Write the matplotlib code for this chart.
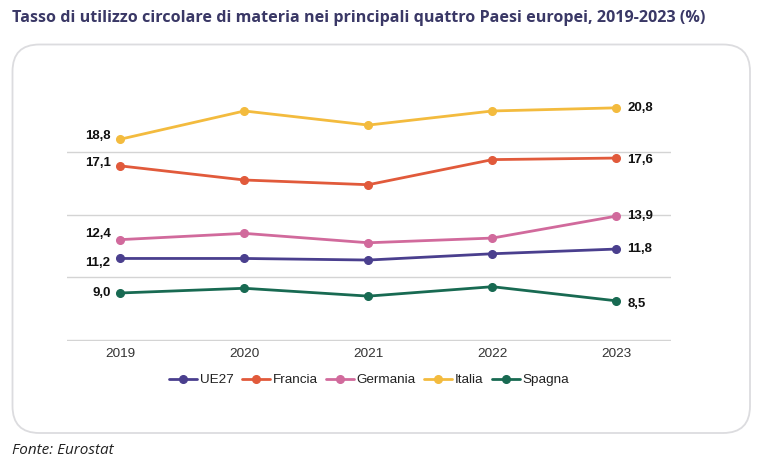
import matplotlib
matplotlib.use("Agg")
import matplotlib.pyplot as plt
from matplotlib.patches import FancyBboxPatch

years = ["2019", "2020", "2021", "2022", "2023"]
ue27 = [11.2, 11.2, 11.1, 11.5, 11.8]
francia = [17.1, 16.2, 15.9, 17.5, 17.6]
germania = [12.4, 12.8, 12.2, 12.5, 13.9]
italia = [18.8, 20.6, 19.7, 20.6, 20.8]
spagna = [9.0, 9.3, 8.8, 9.4, 8.5]
series_names = ["UE27", "Francia", "Germania", "Italia", "Spagna"]
yticks = [6, 10, 14, 18]

colors = {"UE27": "#4a3f8e", "Francia": "#e15a3b", "Germania": "#d16a9c",
          "Italia": "#f3bb3e", "Spagna": "#186a52"}
data = {"UE27": ue27, "Francia": francia, "Germania": germania,
        "Italia": italia, "Spagna": spagna}
# label offsets in points (left label, right label)
left_off = {"UE27": -3.2, "Francia": 2, "Germania": 3.8, "Italia": 2, "Spagna": 0}
right_off = {"UE27": 0, "Francia": -1.5, "Germania": 0, "Italia": 0, "Spagna": -2.5}

W, H = 769, 475
fig = plt.figure(figsize=(W / 100, H / 100), dpi=100)
fig.patch.set_facecolor("white")

# rounded box
box = FancyBboxPatch((12.5 / W, 1 - 433 / H), (750 - 12.5) / W, (433 - 44.5) / H,
                     boxstyle="round,pad=0,rounding_size=0.035",
                     transform=fig.transFigure, facecolor="white",
                     edgecolor="#dcdcdf", linewidth=1.3, mutation_aspect=W / H,
                     zorder=-5)
fig.patches.append(box)

ax = fig.add_axes([67 / W, 1 - 341 / H, 604 / W, (341 - 89) / H])
ax.set_facecolor("none")
ax.set_zorder(2)
x = list(range(len(years)))
for name in series_names:
    ax.plot(x, data[name], color=colors[name], lw=2.0, marker="o", ms=5.5,
            solid_capstyle="round", label=name, zorder=3)
    ax.annotate(f"{data[name][0]:.1f}".replace(".", ","), (x[0], data[name][0]),
                xytext=(-7, left_off[name]), textcoords="offset points",
                ha="right", va="center", fontsize=9.5, fontweight="bold",
                family="Liberation Sans", color="#111111")
    ax.annotate(f"{data[name][-1]:.1f}".replace(".", ","), (x[-1], data[name][-1]),
                xytext=(8, right_off[name]), textcoords="offset points",
                ha="left", va="center", fontsize=9.5, fontweight="bold",
                family="Liberation Sans", color="#111111")

ax.set_xlim(-0.43, 4.44)
ax.set_ylim(5.94, 22)
ax.set_yticks(yticks)
ax.yaxis.grid(True, color="#d4d4d4", lw=1)
ax.set_axisbelow(True)
ax.tick_params(axis="y", left=False, labelleft=False)
ax.set_xticks(x)
ax.set_xticklabels(years, family="Liberation Sans", fontsize=9.7, color="#333333")
ax.tick_params(axis="x", length=0, pad=5)
for s in ax.spines.values():
    s.set_visible(False)

leg = ax.legend(loc="center", bbox_to_anchor=(0.5, -0.155), ncol=5, frameon=False,
                prop={"family": "Liberation Sans", "size": 9.7},
                handlelength=2.1, handletextpad=0.2, columnspacing=0.6)
for t in leg.get_texts():
    t.set_color("#222222")

fig.text(12 / W, 1 - 18 / H, "Tasso di utilizzo circolare di materia nei principali quattro Paesi europei, 2019-2023 (%)",
         ha="left", va="center", fontsize=11.6, fontweight="bold", family="Open Sans",
         color="#3a3866")
fig.text(12 / W, 1 - 451 / H, "Fonte: Eurostat", ha="left", va="center", fontsize=11,
         style="italic", family="Open Sans", color="#222222")

fig.savefig("out.png", dpi=100, facecolor="white")
